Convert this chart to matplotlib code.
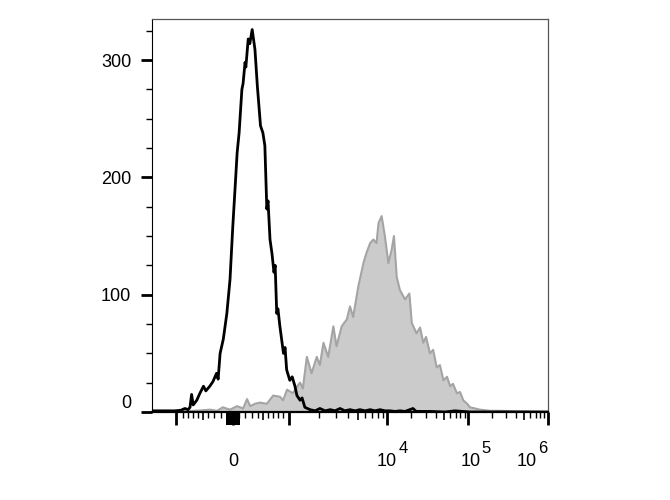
import numpy as np
import matplotlib
matplotlib.use("Agg")
import matplotlib.pyplot as plt
import matplotlib.transforms as mtransforms

plt.rcParams['font.family'] = ['Liberation Sans', 'DejaVu Sans']

# ---- data (x in display channel units 0..1000 of a biexponential axis) ----
grey_x = [33, 71, 104, 129, 147, 164, 179, 197, 215, 230, 240, 248, 260, 273, 290,
          306, 323, 331, 341, 356, 369, 374, 381, 391, 403, 416, 424, 433, 445, 458,
          466, 479, 492, 500, 508, 521, 534, 542, 551, 559, 567, 572, 580, 588, 597,
          605, 611, 618, 626, 639, 650, 656, 668, 677, 685, 692, 702, 710, 719, 727,
          736, 745, 753, 760, 770, 778, 786, 796, 803, 816, 828, 854, 879, 929, 1000]
grey_y = [0, 0.5, 1, 1.5, 2, 1, 4, 2, 5, 3, 11, 5, 7, 8, 7,
          14, 13, 10, 19, 16, 23, 25, 20, 47, 33, 47, 40, 59, 47, 73,
          56, 73, 79, 90, 81, 107, 127, 136, 144, 147, 144, 161, 167, 150, 127,
          138, 150, 115, 104, 96, 101, 76, 67, 72, 59, 64, 50, 53, 38, 40,
          27, 30, 22, 24, 16, 17, 10, 7, 4, 3, 2, 1, 1, 0.5, 0]

black_x = [0, 58, 73, 83, 91, 96, 100, 104, 113, 121, 130, 136, 146, 154, 163,
           167, 172, 180, 189, 197, 204, 210, 215, 220, 227, 230, 235, 237, 243, 247,
           253, 260, 266, 274, 280, 285, 290, 293, 298, 303, 308, 311, 315, 318, 323,
           332, 336, 340, 348, 354, 361, 366, 374, 379, 386, 399, 412, 424, 437, 450,
           462, 475, 487, 500, 513, 525, 538, 551, 563, 576, 588, 601, 614, 626, 639,
           659, 667, 702, 740, 765, 803, 879, 1000]
black_y = [1, 1, 1.5, 3, 2, 4, 15, 6, 10, 16, 22, 18, 22, 26, 33,
           28, 50, 62, 84, 113, 158, 192, 221, 238, 275, 280, 298, 294, 318, 314,
           326, 309, 278, 244, 238, 227, 173, 180, 147, 135, 119, 125, 84, 88, 73,
           50, 55, 36, 27, 30, 22, 14, 10, 12, 4, 2, 1, 3, 1, 2,
           1, 3, 1, 2, 1, 2, 1, 2, 1, 2, 1, 1, 0.5, 1, 0.5,
           3, 0.5, 0.5, 0, 1, 0, 0, 0]

# ---- axis ticks ----
zero_pos = 204.5
decade_pos = [593.4, 798.8, 1000]          # 10^4, 10^5, 10^6
decade_exp = ['4', '5', '6']
x_unlabeled_major = [60.6, 346.7]          # -10^3, 10^3
decade_edges = [346.7, 593.4, 798.8, 1000]
lin_offsets = [16, 30, 47, 63, 76, 88, 101, 114, 127]   # +-100 .. +-900
cluster_offsets = [2, 4, 6, 8, 10, 12, 14, 16]

y_major = [0, 100, 200, 300]
y_minor = [25, 50, 75, 125, 150, 175, 225, 250, 275, 325]

FS = 13

fig = plt.figure(figsize=(6.7, 5.0), dpi=100)
ax = fig.add_axes([152/670, 1-412/500, 396/670, 393/500])

ax.fill_between(grey_x, grey_y, 0, color='#cbcbcb', lw=0, zorder=1)
ax.plot(grey_x, grey_y, color='#a4a4a4', lw=1.5, zorder=2)
ax.plot(black_x, black_y, color='black', lw=2.0, zorder=3)

ax.set_xlim(0, 1000)
ax.set_ylim(0, 335)

# x ticks
ax.set_xticks([zero_pos] + decade_pos + x_unlabeled_major)
ax.set_xticklabels([])
minor = []
medium = []
for a, b in zip(decade_edges[:-1], decade_edges[1:]):
    for k in range(2, 10):
        p = a + (b - a) * np.log10(k)
        (medium if k == 5 else minor).append(p)
for i, off in enumerate(lin_offsets):
    for s in (-1, 1):
        (medium if i == 4 else minor).append(zero_pos + s * off)
ax.set_xticks(minor, minor=True)
ax.tick_params(axis='x', which='major', length=9, width=2)
ax.tick_params(axis='x', which='minor', length=4, width=1)

sec1 = ax.secondary_xaxis('bottom')
sec1.set_xticks(medium)
sec1.set_xticklabels([])
sec1.tick_params(length=6, width=1.2)
sec1.spines['bottom'].set_visible(False)
sec2 = ax.secondary_xaxis('bottom')
cl = [zero_pos] + [zero_pos + s * o for o in cluster_offsets for s in (-1, 1)]
sec2.set_xticks(cl)
sec2.set_xticklabels([])
sec2.tick_params(length=9, width=1.3)
sec2.spines['bottom'].set_visible(False)

# x tick labels: "0" and 10^n with a full-size raised exponent
trans = mtransforms.blended_transform_factory(ax.transData, ax.transAxes)
ax.annotate('0', xy=(zero_pos, 0), xycoords=trans, xytext=(0, -54),
            textcoords='offset pixels', ha='center', va='baseline', fontsize=FS,
            annotation_clip=False)
base_dx = [10, 12, -11]
for p, e, dx in zip(decade_pos, decade_exp, base_dx):
    ax.annotate('10', xy=(p, 0), xycoords=trans, xytext=(dx, -54),
                textcoords='offset pixels', ha='right', va='baseline', fontsize=FS,
                annotation_clip=False)
    ax.annotate(e, xy=(p, 0), xycoords=trans, xytext=(dx + 1.5, -41),
                textcoords='offset pixels', ha='left', va='baseline', fontsize=FS - 1,
                annotation_clip=False)

# y ticks
ax.set_yticks(y_major)
ax.set_yticks(y_minor, minor=True)
ax.tick_params(axis='y', which='major', length=8, width=2, pad=7, labelsize=FS)
ax.tick_params(axis='y', which='minor', length=4, width=1)
fig.canvas.draw()
ylabels = ax.get_yticklabels()
ylabels[0].set_va('bottom')

for s in ['top', 'right']:
    ax.spines[s].set_color('#555555')
    ax.spines[s].set_linewidth(0.9)
ax.spines['left'].set_linewidth(0.8)
ax.spines['bottom'].set_linewidth(1.6)

fig.savefig('out.png', dpi=100)
